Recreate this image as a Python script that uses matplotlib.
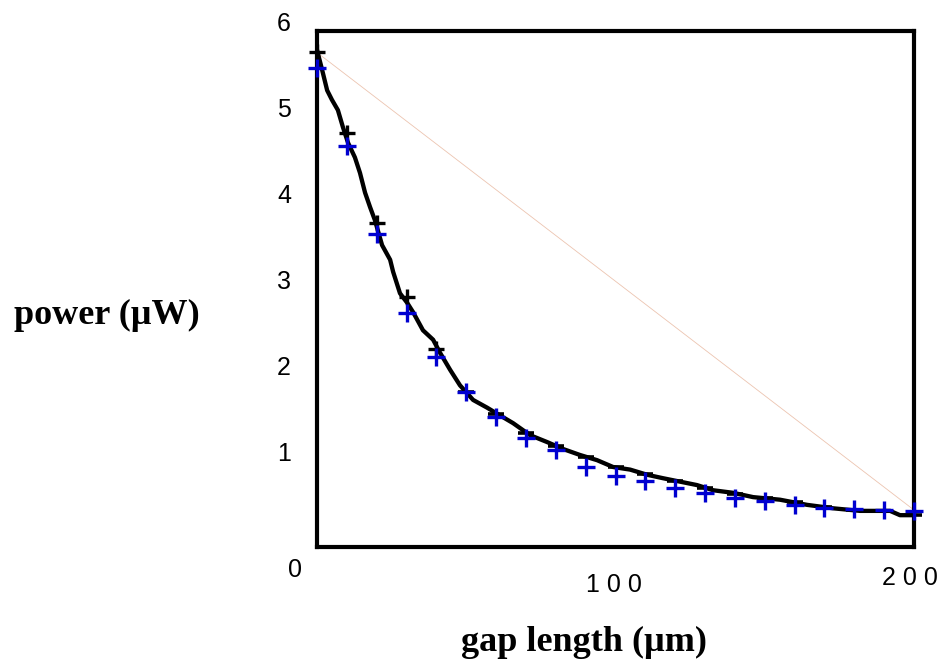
import matplotlib
matplotlib.use('Agg')
import matplotlib.pyplot as plt
import matplotlib.transforms as mtransforms

# measured curve (black, thick)
curve_x = [0, 1.7, 3.4, 5.0, 7.0, 8.7, 10.4, 12.7, 14.4, 16.1, 17.8, 19.4, 21.8, 24.5,
           25.5, 27.8, 30.2, 32.2, 35.5, 38.9, 41.2, 44.6, 47.9, 52.3, 57.0, 61.3, 65.7,
           71.4, 77.1, 82.4, 88.1, 93.8, 99.2, 104.9, 110.6, 115.9, 121.6, 127.3, 132.7,
           139.4, 146.1, 155.1, 164.2, 172.9, 181.9, 192.0, 195.3, 200]
curve_y = [5.78, 5.55, 5.31, 5.20, 5.08, 4.88, 4.70, 4.53, 4.35, 4.12, 3.95, 3.80, 3.51, 3.34,
           3.20, 2.95, 2.84, 2.73, 2.52, 2.41, 2.26, 2.06, 1.88, 1.71, 1.62, 1.53, 1.44,
           1.30, 1.22, 1.14, 1.07, 1.01, 0.93, 0.90, 0.84, 0.80, 0.76, 0.72, 0.66,
           0.63, 0.58, 0.55, 0.49, 0.45, 0.42, 0.42, 0.37, 0.37]

# sample points every 10 um
gap = [0, 10, 20, 30, 40, 50, 60, 70, 80, 90, 100, 110, 120, 130, 140, 150, 160, 170, 180, 190, 200]
power_meas = [5.76, 4.81, 3.77, 2.91, 2.30, 1.80, 1.55, 1.33, 1.18, 1.05, 0.93, 0.85, 0.77, 0.69,
              0.62, 0.57, 0.52, 0.47, 0.43, 0.42, 0.37]
power_calc = [5.57, 4.66, 3.64, 2.72, 2.21, 1.80, 1.51, 1.27, 1.13, 0.93, 0.83, 0.77, 0.69, 0.63,
              0.57, 0.53, 0.49, 0.45, 0.44, 0.43, 0.42]

# faint straight line between end points
line_x = [0, 200]
line_y = [5.75, 0.43]

y_labels = [1, 2, 3, 4, 5, 6]

W, H = 943, 669
fig = plt.figure(figsize=(W / 100, H / 100), dpi=100)
ax = fig.add_axes([317 / W, 1 - 547 / H, (914 - 317) / W, (547 - 31) / H])

ax.plot(line_x, line_y, color='#ecc4b0', lw=0.6, zorder=1)
ax.plot(curve_x, curve_y, color='black', lw=3.1, zorder=3, solid_joinstyle='round')
# black markers: full crosses at the start, only the flat arm shows further on
ax.plot(gap[:5], power_meas[:5], ls='none', marker='+', ms=12, mew=2.4, color='black',
        zorder=3, clip_on=False)
ax.plot(gap[5:], power_meas[5:], ls='none', marker='_', ms=11, mew=2.6, color='black',
        zorder=3, clip_on=False)
ax.plot(gap, power_calc, ls='none', marker='+', ms=13, mew=2.4, color='#0000d0', zorder=4,
        clip_on=False)

ax.set_xlim(0, 200)
ax.set_ylim(0, 6)
ax.set_xticks([])
ax.set_yticks([])
for s in ax.spines.values():
    s.set_linewidth(3)
    s.set_color('black')

tick_font = dict(family=['Liberation Sans', 'DejaVu Sans'], fontsize=18, color='black')

# y tick labels, placed left of the box and a bit high like the original
ytr = ax.get_yaxis_transform() + mtransforms.ScaledTranslation(-0.33, 0.07, fig.dpi_scale_trans)
for v in y_labels:
    ax.text(0, v, str(v), transform=ytr, ha='center', va='center', clip_on=False, **tick_font)

xtr = ax.get_xaxis_transform()
ax.text(0, 0, '0', transform=xtr + mtransforms.ScaledTranslation(-0.22, -0.23, fig.dpi_scale_trans),
        ha='center', va='center', **tick_font)
ax.text(100, 0, '1 0 0', transform=xtr + mtransforms.ScaledTranslation(-0.02, -0.38, fig.dpi_scale_trans),
        ha='center', va='center', **tick_font)
ax.text(200, 0, '2 0 0', transform=xtr + mtransforms.ScaledTranslation(-0.04, -0.31, fig.dpi_scale_trans),
        ha='center', va='center', **tick_font)

lab_font = dict(family=['Liberation Serif', 'DejaVu Serif'], fontsize=26, fontweight='bold')
fig.text(107 / W, 1 - 315 / H, 'power (µW)', ha='center', va='center', **lab_font)
fig.text(584 / W, 1 - 642 / H, 'gap length (µm)', ha='center', va='center', **lab_font)

fig.savefig('out.png', dpi=100)
